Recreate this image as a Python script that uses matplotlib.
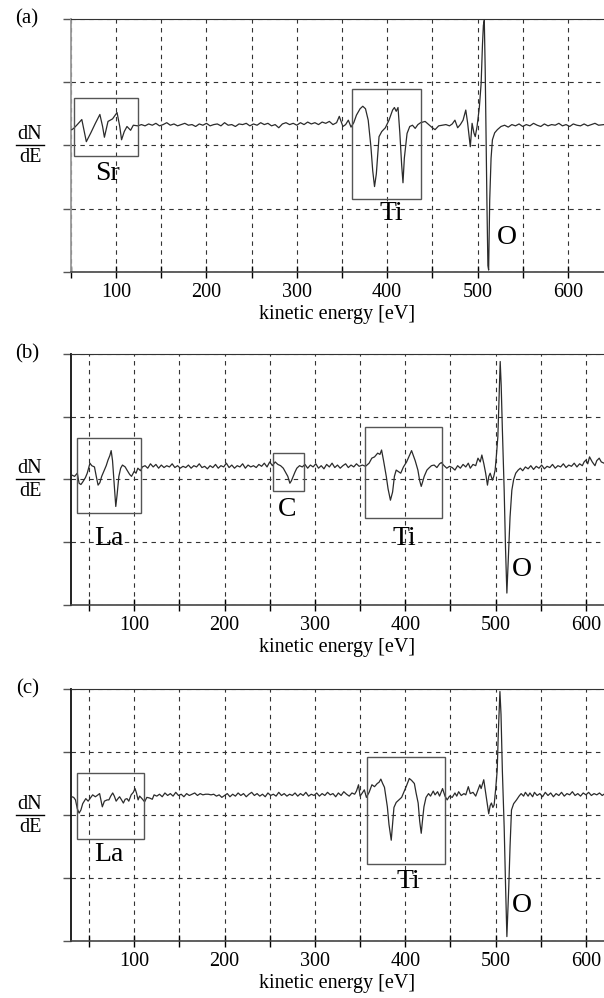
"""
Auger spectra (dN/dE vs kinetic energy) for three samples, panels (a)-(c).
"""

import matplotlib
matplotlib.use("Agg")
import matplotlib.pyplot as plt
import matplotlib.transforms as mtransforms
from matplotlib.lines import Line2D
from matplotlib.patches import Rectangle

plt.rcParams.update({
    "font.family": ["Liberation Serif", "DejaVu Serif"],
    "font.size": 14.5,
})

# ── Data ─────────────────────────────────────────────────────────────────────
E_A = [51, 53, 57, 62, 65, 67, 72, 77, 82, 85, 87, 91, 96, 101, 104, 106, 109, 112, 116, 119, 124,
       128, 132, 136, 140, 144, 148, 152, 156, 160, 164, 168, 172, 176, 180, 184, 188, 192, 196,
       200, 204, 208, 212, 216, 220, 224, 228, 232, 236, 240, 244, 248, 252, 256, 260, 264, 268,
       272, 276, 280, 284, 288, 292, 296, 300, 304, 308, 312, 316, 320, 324, 328, 332, 336, 340, 344,
       347, 351, 354, 357, 360, 363, 366, 370, 373, 376, 379, 382, 384, 386, 388, 391, 394, 398,
       402, 406, 408, 410, 412, 414, 416, 417.5, 419, 422, 425, 428, 431, 434, 437, 442, 446, 450,
       453, 457, 461, 465, 469, 472, 475, 478, 481, 484, 487, 489, 491, 492, 494, 496, 497.5, 499.5,
       502, 504, 505.5, 506.5, 507.5, 508.5, 509.5, 510.5, 511.5, 512.3, 513.5, 515, 516.5, 519,
       522, 526, 530, 534, 538, 542, 546, 550, 554, 558, 562, 566, 570, 574, 578, 582, 586, 590,
       594, 598, 602, 606, 610, 614, 618, 622, 626, 630, 634, 640]
D_A = [2.25, 2.27, 2.33, 2.41, 2.20, 2.06, 2.20, 2.35, 2.49, 2.30, 2.13, 2.38, 2.42, 2.52, 2.30,
       2.09, 2.22, 2.30, 2.24, 2.32, 2.31,
       2.33, 2.31, 2.34, 2.32, 2.35, 2.31, 2.33, 2.36, 2.32, 2.34, 2.31, 2.33, 2.35, 2.32, 2.33,
       2.30, 2.34, 2.32, 2.35, 2.31, 2.33, 2.34, 2.31, 2.36, 2.32, 2.33, 2.30, 2.34, 2.33, 2.35,
       2.31, 2.34, 2.32, 2.36, 2.33, 2.35, 2.31, 2.33, 2.28, 2.34, 2.36, 2.33, 2.35, 2.32, 2.36,
       2.33, 2.37, 2.34, 2.36, 2.33, 2.37, 2.35, 2.38, 2.33, 2.36,
       2.46, 2.30, 2.33, 2.40, 2.29, 2.36, 2.48, 2.58, 2.62, 2.58, 2.40, 1.98, 1.60, 1.35, 1.55,
       2.14, 2.22, 2.28, 2.40, 2.56, 2.60, 2.54, 2.60, 2.20, 1.70, 1.41, 1.80, 2.19, 2.30, 2.32,
       2.27, 2.33, 2.36, 2.38, 2.33, 2.28, 2.25, 2.31, 2.32, 2.33, 2.31, 2.34, 2.40, 2.28, 2.33,
       2.40, 2.56, 2.36, 2.10, 1.98, 2.35, 2.20, 2.14, 2.30,
       2.60, 2.98, 3.60, 3.90, 3.98, 3.20, 2.10, 1.00, 0.10, 0.03, 1.14, 1.80, 2.09, 2.20,
       2.25, 2.30, 2.32, 2.29, 2.33, 2.31, 2.34, 2.30, 2.33, 2.31, 2.35, 2.32, 2.30, 2.34, 2.31,
       2.33, 2.32, 2.35, 2.31, 2.33, 2.30, 2.34, 2.32, 2.31, 2.34, 2.31, 2.33, 2.35, 2.32, 2.33]

E_B = [31, 34, 37, 39, 41, 43, 46, 48, 51, 53, 56, 58, 60, 62, 64, 67, 69, 71, 73, 74.5, 76, 78,
       79.6, 81, 83, 85, 87, 90, 92, 95, 97, 100, 102, 104, 107, 109,
       112, 115, 118, 121, 124, 127, 130, 133, 136, 139, 142, 145, 148, 151, 154, 157, 160, 163,
       166, 169, 172, 175, 178, 181, 184, 187, 190, 193, 196, 199, 202, 205, 208, 211, 214, 217,
       220, 223, 226, 229, 232, 235, 238, 241, 244, 247, 250, 253, 256, 259, 262, 265, 268, 270,
       272.3, 274, 276, 278, 280, 283, 286, 289, 292, 295, 298, 301, 304, 307, 310, 313, 316, 319,
       322, 325, 328, 331, 334, 337, 340, 343, 346, 349, 352.6, 356, 360, 363, 366, 369.5, 372,
       373.8, 376, 379, 381, 383.6, 386, 388, 390, 393, 395, 398, 401.5, 404, 407, 409, 411, 414,
       416, 417.7, 419, 421, 424, 426, 429, 432, 435, 438, 440, 443, 446, 449, 452, 455, 458, 461,
       464, 467, 469.8, 472, 475, 478, 480.5, 483, 484.8, 487, 489, 491, 492.5, 494, 496.5, 498,
       499.5, 501, 502.5, 504, 505.1, 506.2, 507.5, 509.5, 511, 512.5, 514.6, 516, 518, 520, 522.3,
       525, 527.4, 530, 533, 536, 539, 542, 545, 548, 551, 554, 557, 560, 563, 566, 569, 572, 575,
       578, 581, 584, 587, 590, 593, 596, 598, 600, 602, 604, 607, 610, 612, 614.7, 617, 620]
D_B = [2.07, 2.05, 2.10, 1.94, 1.92, 1.96, 2.03, 2.10, 2.26, 2.22, 2.20, 2.05, 1.91, 1.95, 2.05,
       2.15, 2.22, 2.31, 2.38, 2.46, 2.30, 1.90, 1.57, 1.75, 2.05, 2.18, 2.23, 2.20, 2.15, 2.08,
       2.05, 2.13, 2.10, 2.18, 2.14, 2.20,
       2.22, 2.18, 2.25, 2.20, 2.24, 2.18, 2.23, 2.19, 2.22, 2.20, 2.25, 2.19, 2.22, 2.18, 2.21,
       2.19, 2.23, 2.18, 2.22, 2.20, 2.25, 2.19, 2.21, 2.17, 2.22, 2.19, 2.24, 2.18, 2.22, 2.20,
       2.26, 2.19, 2.23, 2.18, 2.22, 2.20, 2.25, 2.18, 2.23, 2.20, 2.22, 2.19, 2.24, 2.21, 2.26,
       2.20, 2.28, 2.22, 2.28, 2.24, 2.22, 2.18, 2.10, 2.05,
       1.94, 1.98, 2.05, 2.12, 2.18, 2.22, 2.20, 2.24, 2.18, 2.23, 2.20, 2.25, 2.18, 2.22, 2.17,
       2.24, 2.20, 2.26, 2.19, 2.23, 2.18, 2.22, 2.25, 2.19, 2.23, 2.20, 2.25, 2.21, 2.23, 2.21,
       2.26, 2.34, 2.36, 2.42, 2.40,
       2.47, 2.30, 2.05, 1.85, 1.67, 1.80, 2.05, 2.15, 2.12, 2.10, 2.20, 2.28, 2.36, 2.46, 2.38,
       2.30, 2.15, 1.98, 1.89, 1.95, 2.05, 2.15, 2.18, 2.22, 2.23, 2.19, 2.25, 2.27, 2.22, 2.18,
       2.21, 2.19, 2.15, 2.22, 2.18, 2.24, 2.20, 2.26, 2.18, 2.24, 2.22, 2.34, 2.28, 2.39, 2.25,
       2.10, 1.91, 2.05, 2.10, 1.99, 2.05,
       2.15, 2.40, 2.68, 3.40, 3.88, 3.50, 2.80, 1.83, 0.90, 0.19, 0.93, 1.40, 1.83, 2.00, 2.10,
       2.15, 2.18, 2.14, 2.20, 2.17, 2.22, 2.16, 2.21, 2.18, 2.23, 2.17, 2.21, 2.19, 2.24, 2.18,
       2.22, 2.20, 2.25, 2.19, 2.23, 2.21, 2.26, 2.20, 2.25, 2.22, 2.28, 2.31, 2.25, 2.36, 2.28,
       2.22, 2.30, 2.34, 2.28, 2.26]

E_C = [31, 33, 35, 37, 39, 41, 43, 46.4, 49, 51, 54, 57, 59, 61.7, 63, 64.7, 67, 70, 72, 74, 76.2,
       78, 80, 82, 83.8, 86, 88, 90, 92, 94, 96.6, 99, 100.9, 102.5, 104.3, 106, 108, 111.5, 114,
       117, 120, 122,
       125, 128, 131, 134, 137, 140, 143, 146, 149, 152, 155, 158, 161, 164, 167, 170, 173, 176,
       179, 182, 185, 188, 191, 194, 197, 200, 203, 206, 209, 212, 215, 218, 221, 224, 227, 230,
       233, 236, 239, 242, 245, 248, 251, 254, 257, 260, 263, 266, 269, 272, 275, 278, 281, 284,
       287, 290, 293, 296, 299, 302, 305, 308, 311, 314, 317, 320, 323, 326, 329, 332, 335, 338,
       341, 344, 346, 348.3, 350, 352, 354.7, 357, 360, 363.1, 366, 369, 371, 373, 375, 377,
       380.2, 382, 384.5, 386, 387.5, 390, 393, 396, 398.6, 401, 404.5, 407, 410.1, 412, 414.3,
       416, 417.7, 419, 420.7, 423, 425.8, 428, 431, 433, 435.8, 438, 441.3, 444, 446.4, 449, 452,
       455, 457, 459.1, 462, 465, 467, 469.8, 472, 475, 478, 480, 482.6, 484, 486.9, 489, 490,
       492.4, 494, 495.4, 497, 498.4, 500, 501.8, 503, 504.8, 506, 507.5, 509.5, 511, 512.5, 514.6,
       516, 517.6, 520, 523.2, 526, 528.3, 531, 533, 536, 538, 541, 543, 546, 549, 552, 555, 558,
       561, 564, 567, 570, 573, 576, 579, 582, 585, 588, 591, 594, 597, 600, 603, 606, 609, 612,
       615, 618, 620]
D_C = [2.29, 2.28, 2.24, 2.10, 2.03, 2.08, 2.18, 2.26, 2.22, 2.26, 2.32, 2.29, 2.31, 2.34, 2.25,
       2.13, 2.22, 2.24, 2.24, 2.30, 2.35, 2.30, 2.22, 2.26, 2.29, 2.24, 2.19, 2.25, 2.26, 2.22,
       2.32, 2.36, 2.42, 2.35, 2.24, 2.30, 2.27, 2.21, 2.28, 2.27, 2.25, 2.32,
       2.30, 2.33, 2.29, 2.35, 2.31, 2.34, 2.30, 2.36, 2.31, 2.33, 2.29, 2.34, 2.31, 2.33, 2.35,
       2.31, 2.34, 2.32, 2.33, 2.33, 2.32, 2.33, 2.30, 2.32, 2.28, 2.31, 2.34, 2.29, 2.33, 2.30,
       2.35, 2.31, 2.34, 2.29, 2.33, 2.36, 2.31, 2.34, 2.30, 2.33, 2.29, 2.35, 2.31, 2.33, 2.30,
       2.36, 2.31, 2.34, 2.30, 2.33, 2.31, 2.35, 2.30, 2.34, 2.31, 2.36, 2.30, 2.33, 2.31, 2.35,
       2.30, 2.34, 2.31, 2.36, 2.32, 2.34, 2.29, 2.35, 2.31, 2.37, 2.33, 2.30, 2.35, 2.33, 2.38,
       2.48, 2.30, 2.34, 2.40, 2.28, 2.36, 2.48, 2.45, 2.50, 2.52, 2.57, 2.50, 2.44,
       2.13, 1.85, 1.60, 1.85, 2.12, 2.20, 2.24, 2.28, 2.37, 2.45, 2.58, 2.55, 2.50, 2.35, 2.19,
       1.90, 1.71, 1.90, 2.13, 2.28, 2.34, 2.30, 2.38, 2.32, 2.37, 2.30, 2.42, 2.30, 2.24, 2.30,
       2.28, 2.35, 2.30, 2.37, 2.31, 2.34, 2.32, 2.45, 2.34, 2.36, 2.30, 2.38, 2.48, 2.42, 2.56,
       2.35, 2.24, 2.02, 2.15, 2.19, 2.12, 2.16, 2.40, 2.71, 3.30, 3.96, 3.60, 2.70, 1.81, 0.90,
       0.07, 0.86, 1.50, 2.08, 2.18, 2.24, 2.30, 2.34, 2.30, 2.36, 2.30, 2.35, 2.29, 2.36, 2.31,
       2.34, 2.29, 2.36, 2.31, 2.35, 2.29, 2.34, 2.31, 2.36, 2.30, 2.34, 2.32, 2.37, 2.31, 2.34,
       2.30, 2.35, 2.32, 2.36, 2.31, 2.34, 2.32, 2.35, 2.31, 2.33]

PANEL_NAMES = ["(a)", "(b)", "(c)"]
X_LIMITS = [(50, 640), (30, 620), (30, 620)]

# boxes: (E_start, E_end, y_low, y_high)
BOXES_A = [(53.6, 124.3, 1.83, 2.75), (360.9, 437.2, 1.15, 2.89)]
BOXES_B = [(37, 107, 1.46, 2.66), (253.6, 287.7, 1.81, 2.43), (355, 441.2, 1.39, 2.83)]
BOXES_C = [(37, 110.7, 1.62, 2.67), (357.6, 443.8, 1.22, 2.92)]

# element labels: (text, E, y)
LABELS_A = [("Sr", 90, 1.55), ("Ti", 405, 0.92), ("O", 533, 0.55)]
LABELS_B = [("La", 72.4, 1.06), ("C", 269.3, 1.52), ("Ti", 398.6, 1.06), ("O", 529.6, 0.57)]
LABELS_C = [("La", 72.4, 1.37), ("Ti", 403.7, 0.94), ("O", 529.6, 0.57)]

# axes rectangles in figure fractions [left, bottom, width, height]
AX_RECTS = [
    [0.1175, 0.7275, 0.8825, 0.2535],
    [0.1175, 0.3938, 0.8825, 0.2515],
    [0.1175, 0.0571, 0.8825, 0.2525],
]


def draw_panel(fig, rect, name, xlim, energy, signal, boxes, labels, left_color):
    ax = fig.add_axes(rect)
    ax.plot(energy, signal, color="#2b2b2b", lw=0.9, zorder=3)

    for e0, e1, y0, y1 in boxes:
        ax.add_patch(Rectangle((e0, y0), e1 - e0, y1 - y0, fill=False,
                               edgecolor="#555555", lw=1.0, zorder=4))
    for text, e, y in labels:
        ax.text(e, y, text, ha="center", va="center", fontsize=20, zorder=5)

    ax.set_xlim(*xlim)
    ax.set_ylim(0, 4)
    start = 50 * ((xlim[0] + 49) // 50)
    ax.set_xticks(range(int(start), int(xlim[1]) + 1, 50))
    ax.set_xticklabels([str(t) if t % 100 == 0 else "" for t in ax.get_xticks()])
    ax.set_yticks([0, 1, 2, 3, 4])
    ax.set_yticklabels([])
    ax.grid(True, color="#333333", lw=0.8, ls=(0, (4, 4)), zorder=1)
    ax.tick_params(axis="x", direction="inout", length=8, width=1, pad=4, labelsize=14.5)
    ax.tick_params(axis="y", direction="out", length=6, width=1, color="#555555")

    ax.spines["right"].set_visible(False)
    ax.spines["left"].set_color(left_color)
    ax.spines["left"].set_linewidth(1.3)
    ax.spines["top"].set_color("#333333")
    ax.spines["bottom"].set_color("#444444")
    ax.spines["bottom"].set_linewidth(1.2)
    ax.set_xlabel("kinetic energy [eV]", fontsize=14.5, labelpad=2)

    # dN/dE written as a fraction left of the axis, bar on the y = 2 gridline
    trans = mtransforms.blended_transform_factory(fig.transFigure, ax.transData)
    ax.annotate("dN", xy=(0.0497, 2.0), xycoords=trans, xytext=(0, 1),
                textcoords="offset points", ha="center", va="bottom", fontsize=14.5)
    ax.annotate("dE", xy=(0.0497, 2.0), xycoords=trans, xytext=(0, -2),
                textcoords="offset points", ha="center", va="top", fontsize=14.5)
    fig.add_artist(Line2D([0.027, 0.073], [2.0, 2.0], transform=trans,
                          color="black", lw=1.0))

    top = rect[1] + rect[3]
    fig.text(0.045, top, name, ha="center", va="center", fontsize=15)
    return ax


def main() -> None:
    fig = plt.figure(figsize=(6.04, 9.98), dpi=100)

    draw_panel(fig, AX_RECTS[0], PANEL_NAMES[0], X_LIMITS[0], E_A, D_A, BOXES_A, LABELS_A, "#999999")
    draw_panel(fig, AX_RECTS[1], PANEL_NAMES[1], X_LIMITS[1], E_B, D_B, BOXES_B, LABELS_B, "#111111")
    draw_panel(fig, AX_RECTS[2], PANEL_NAMES[2], X_LIMITS[2], E_C, D_C, BOXES_C, LABELS_C, "#111111")

    fig.savefig("out.png", dpi=100)
    plt.close(fig)


if __name__ == "__main__":
    main()
